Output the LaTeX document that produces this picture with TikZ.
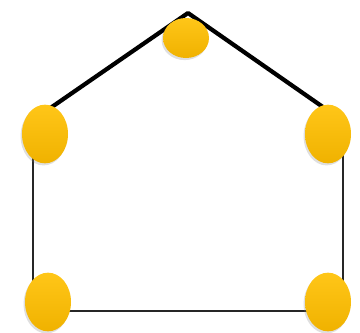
\documentclass[tikz,border=0pt]{standalone}
\usetikzlibrary{shapes.geometric, shadows}

\definecolor{dotTop}{RGB}{255,198,24}
\definecolor{dotBot}{RGB}{240,178,0}

\begin{document}
\begin{tikzpicture}[x=0.03cm, y=-0.03cm,
    dot/.style={ellipse, inner sep=0pt, minimum width=1.38cm, minimum height=1.76cm,
      top color=dotTop, bottom color=dotBot, draw=none,
      drop shadow={opacity=0.25, shadow xshift=-1.2pt, shadow yshift=-1.8pt}},
    roof/.style={line width=3.6pt, line join=round},
    wall/.style={line width=2.5pt, draw=black!85}]
  \useasboundingbox (0,0) rectangle (360,332);
  % ecken des hauses
  \coordinate (tl) at (33,120);
  \coordinate (apex) at (188,13);
  \coordinate (tr) at (343,121);
  \coordinate (bl) at (33,311);
  \coordinate (br) at (343,311);
  % dach
  \draw[roof] (tl) -- (apex) -- (tr);
  % waende und boden
  \draw[wall] (tl) -- (bl) -- (br) -- (tr);
  % punkte
  \node[dot, minimum height=1.2cm] (top) at (186,38) {};
  \node[dot] (left) at (45,134) {};
  \node[dot] (right) at (328,134) {};
  \node[dot] (lowleft) at (48,302) {};
  \node[dot] (lowright) at (328,302) {};
\end{tikzpicture}
\end{document}
